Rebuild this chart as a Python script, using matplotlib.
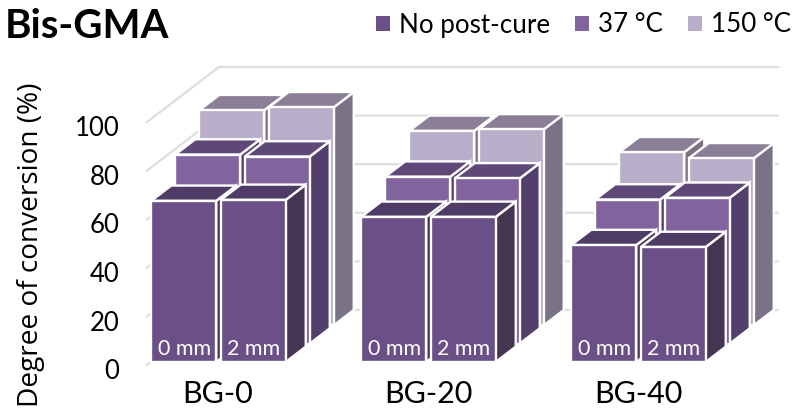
import matplotlib
matplotlib.use("Agg")
import matplotlib.pyplot as plt
from matplotlib.patches import Polygon, Patch
from matplotlib.transforms import ScaledTranslation

categories = ["BG-0", "BG-20", "BG-40"]
series = ["No post-cure", "37 °C", "150 °C"]
no_post_cure = [[66.3, 66.7], [59.7, 59.7], [48.1, 47.3]]
c37 = [[77.8, 77.0], [68.7, 68.0], [59.3, 60.0]]
c150 = [[88.5, 89.7], [80.0, 80.6], [71.2, 68.7]]
yticks = [0, 20, 40, 60, 80, 100]
thickness = ["0 mm", "2 mm"]

front = ["#6a5087", "#81649e", "#b9aec9"]
top = ["#4f3c66", "#5e4877", "#8a7f97"]
side = ["#453553", "#523f6b", "#7a7285"]
grid = "#dedede"

W, H = 793, 411
PX_X = 210.0   # px per category
PX_Y = 2.43    # px per value unit
L, B = 147, 365
fig = plt.figure(figsize=(W / 100, H / 100), dpi=100)
ax = fig.add_axes([L / W, (H - B) / H, (W - L) / W, B / H])
ax.set_xlim((L - 218) / PX_X, (W - 218) / PX_X)
ax.set_ylim(0, B / PX_Y)
for s in ax.spines.values():
    s.set_visible(False)
ax.patch.set_visible(False)

def proj(x, d, v):
    """x in category units, d = depth in px along floor x-axis, v = value."""
    return (x + d / PX_X, v + d * (55 / 72) / PX_Y)

# gridlines: side wall and back wall
XL, XR = (L - 218) / PX_X, (706 - 218) / PX_X
for v in yticks:
    a, b, c = proj(XL, 0, v), proj(XL, 72, v), proj(XR, 72, v)
    ax.plot([a[0], b[0], c[0]], [a[1], b[1], c[1]], color=grid, lw=1.6,
            clip_on=False, zorder=1, solid_joinstyle="miter")

BW = 65 / PX_X
GAP = 4.5 / PX_X
SHIFT = -3.5 / PX_X
data = [no_post_cure, c37, c150]
z = 2
for r in (2, 1, 0):
    d0 = 4 + 24 * r
    d1 = d0 + 20
    for g in range(3):
        for t in range(2):
            x0 = g + SHIFT - BW - GAP / 2 + t * (BW + GAP)
            x1 = x0 + BW
            v = data[r][g][t]
            f = [proj(x0, d0, 0), proj(x1, d0, 0), proj(x1, d0, v), proj(x0, d0, v)]
            tp = [proj(x0, d0, v), proj(x1, d0, v), proj(x1, d1, v), proj(x0, d1, v)]
            sd = [proj(x1, d0, 0), proj(x1, d1, 0), proj(x1, d1, v), proj(x1, d0, v)]
            for pts, col in ((sd, side[r]), (tp, top[r]), (f, front[r])):
                ax.add_patch(Polygon(pts, closed=True, facecolor=col, edgecolor="white",
                                     lw=1.7, clip_on=False, zorder=z, joinstyle="miter"))
                z += 1
            if r == 0:
                cx = (x0 + x1) / 2 + 4.5 / PX_X
                ax.text(cx, proj(0, 4, 0)[1] + 13 / PX_Y, thickness[t], color="white",
                        ha="center", va="center", fontsize=15.5, family="Lato", zorder=1000)

ax.set_xticks(range(3), categories, family="Lato", fontsize=22)
ax.set_yticks(yticks, [str(v) for v in yticks], family="Lato", fontsize=18.5)
ax.tick_params(axis="both", length=0)
ax.tick_params(axis="y", pad=20)
ax.tick_params(axis="x", pad=11)
shift_down = ScaledTranslation(0, -3 / 72, fig.dpi_scale_trans)
for lab in ax.get_yticklabels():
    lab.set_transform(lab.get_transform() + shift_down)

fig.text(31 / W, 1 - 245 / H, "Degree of conversion (%)", rotation=90, ha="center", va="center",
         family="Open Sans", fontsize=20.2)
fig.text(5 / W, 1 - 27 / H, "Bis-GMA", ha="left", va="center", family="Lato",
         fontweight="bold", fontsize=29)

handles = [Patch(facecolor=front[i], label=series[i]) for i in range(3)]
leg = fig.legend(handles=handles, loc="center right", bbox_to_anchor=(791 / W, 1 - 25 / H), ncol=3,
                 frameon=False, handlelength=0.54, handleheight=0.54, handletextpad=0.35,
                 columnspacing=0.95, borderaxespad=0, borderpad=0,
                 prop={"family": "Lato", "size": 18.7})
fig.savefig("out.png", dpi=100)
